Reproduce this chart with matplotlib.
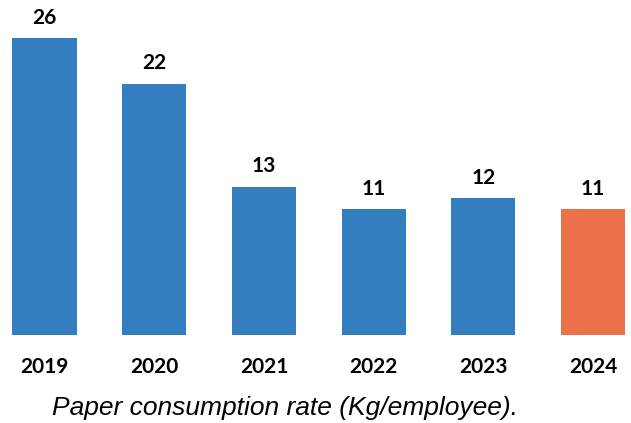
import matplotlib.pyplot as plt

years = ["2019", "2020", "2021", "2022", "2023", "2024"]
rates = [26, 22, 13, 11, 12, 11]
colors = ["#347dbe"] * 5 + ["#ec7148"]

fig = plt.figure(figsize=(6.31, 4.23), dpi=100)
ax = fig.add_axes([0, 88 / 423, 1, 335 / 423])

x = range(len(years))
bars = ax.bar(x, rates, width=0.585, color=colors)

for xi, v in zip(x, rates):
    ax.text(xi, v + 0.9, str(v), ha="center", va="bottom",
            fontsize=15, fontweight="bold", family="Lato")

ax.set_xlim(-0.406, 5.346)
ax.set_ylim(0, 29.33)
ax.set_xticks(list(x))
ax.set_xticklabels(years, fontsize=15, fontweight="bold", family="Lato")
ax.tick_params(axis="x", length=0, pad=16)
ax.set_yticks([])
for s in ax.spines.values():
    s.set_visible(False)

fig.text(285 / 631, 1 - 408 / 423, "Paper consumption rate (Kg/employee).",
         ha="center", va="center", fontsize=19, style="italic",
         family="Liberation Sans")

fig.savefig("out.png", dpi=100)
